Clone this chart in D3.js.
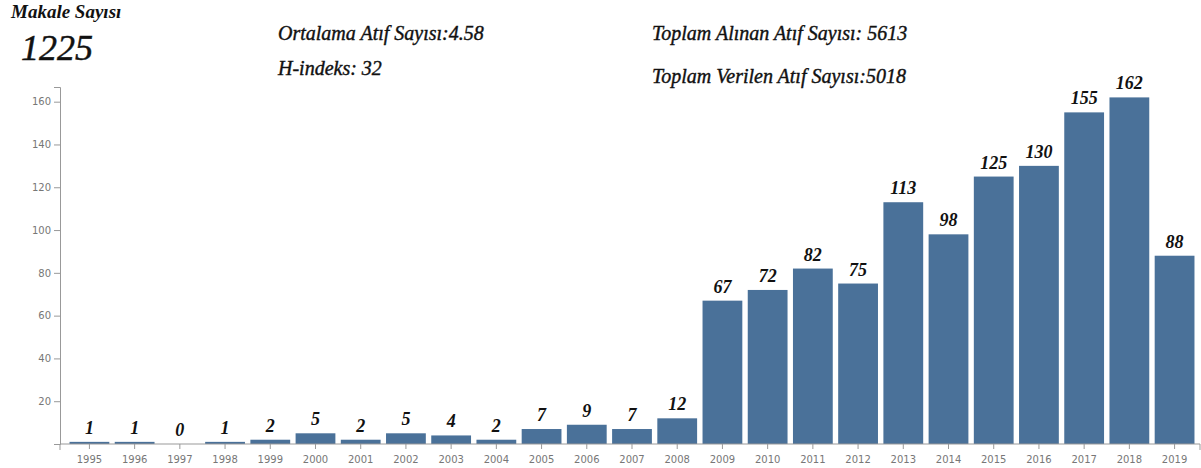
<!DOCTYPE html>
<html><head><meta charset="utf-8">
<script src="https://cdn.jsdelivr.net/npm/d3@7"></script>
<style>
body{margin:0;background:#fff;}
.hdr{font-family:"Liberation Serif","DejaVu Serif",serif;font-style:italic;fill:#111;}
.axis text{font-family:"DejaVu Sans","Open Sans",sans-serif;font-size:10px;fill:#777;}
.axis path,.axis line{stroke:#999;}
</style></head>
<body>
<svg id="chart" width="1201" height="468"></svg>
<script>
const years = ["1995","1996","1997","1998","1999","2000","2001","2002","2003","2004","2005","2006","2007","2008","2009","2010","2011","2012","2013","2014","2015","2016","2017","2018","2019"];
const counts = [1,1,0,1,2,5,2,5,4,2,7,9,7,12,67,72,82,75,113,98,125,130,155,162,88];
const yTicks = [20,40,60,80,100,120,140,160];
const headerTitle = "Makale Sayısı";
const headerTotal = "1225";
const statsLeft = ["Ortalama Atıf Sayısı:4.58","H-indeks: 32"];
const statsRight = ["Toplam Alınan Atıf Sayısı: 5613","Toplam Verilen Atıf Sayısı:5018"];

const svg = d3.select("#chart");
const x = d3.scaleBand().domain(years).range([65,1199]).paddingInner(0.12).paddingOuter(0.1);
const y = d3.scaleLinear().domain([0, d3.max(counts)*1.03]).range([444,87]);

// header
svg.append("text").attr("class","hdr").attr("x",11).attr("y",18).attr("font-size",19).attr("font-weight","bold").text(headerTitle);
svg.append("text").attr("class","hdr").attr("x",21).attr("y",60).attr("font-size",36)
  .attr("stroke","#111").attr("stroke-width",0.5).text(headerTotal);
const stat = (x0, y0, t) => svg.append("text").attr("class","hdr").attr("x",x0).attr("y",y0)
  .attr("font-size",20).attr("stroke","#111").attr("stroke-width",0.4).text(t);
stat(278, 40, statsLeft[0]);
stat(278, 75, statsLeft[1]);
stat(652, 40, statsRight[0]);
stat(652, 83, statsRight[1]);

// bars
svg.append("g").selectAll("rect").data(years).join("rect")
  .attr("x", d => x(d))
  .attr("width", x.bandwidth())
  .attr("y", (d,i) => y(counts[i]))
  .attr("height", (d,i) => y(0) - y(counts[i]))
  .attr("fill", "#4a7199");

// value labels
svg.append("g").selectAll("text").data(years).join("text")
  .attr("class","hdr")
  .attr("x", d => x(d) + x.bandwidth()/2)
  .attr("y", (d,i) => y(counts[i]) - 8)
  .attr("text-anchor","middle")
  .attr("font-size",18)
  .attr("font-weight","bold")
  .text((d,i) => counts[i]);

// axes
const gy = svg.append("g").attr("class","axis").attr("transform","translate(60,0)")
  .call(d3.axisLeft(y).tickValues(yTicks).tickSize(6).tickSizeOuter(6));
const gx = svg.append("g").attr("class","axis").attr("transform","translate(0,444)")
  .call(d3.axisBottom(x).tickSize(5).tickSizeOuter(6));
gx.select(".domain").attr("d","M60,6V0H1200V6");
gx.selectAll(".tick text").attr("dy","1.1em");
</script>
</body></html>
